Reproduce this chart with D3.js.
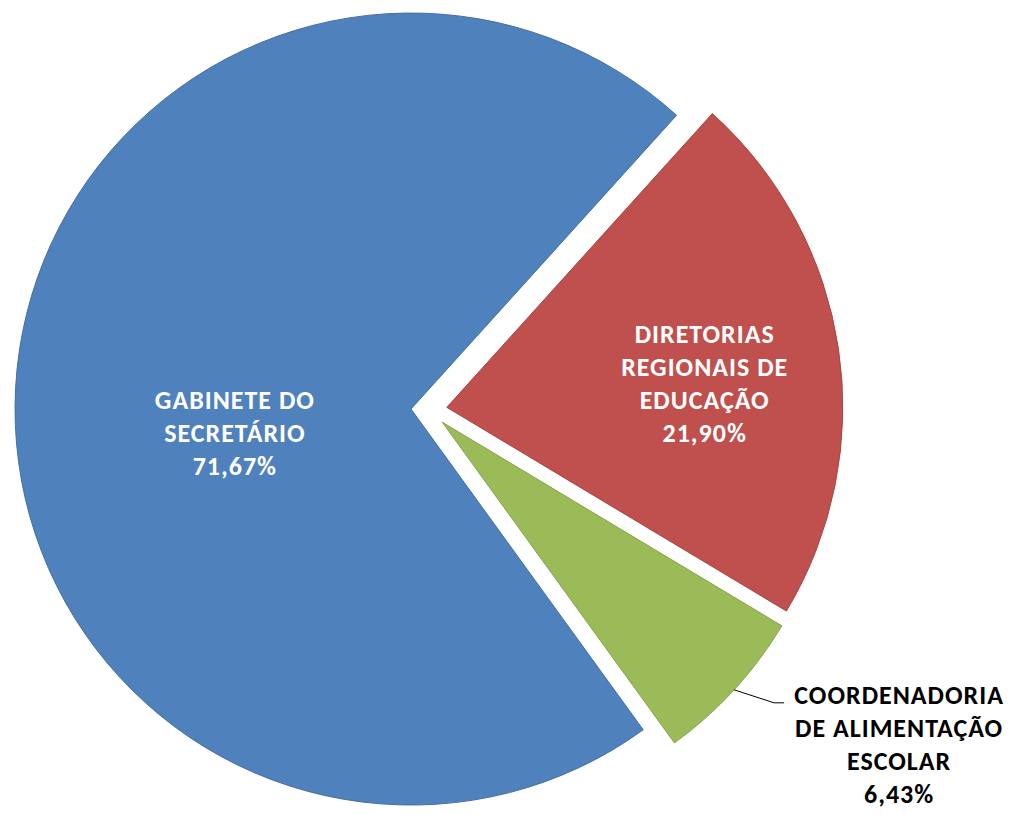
<!DOCTYPE html>
<html>
<head>
<meta charset="utf-8">
<script src="https://cdn.jsdelivr.net/npm/d3@7"></script>
<style>
  body { margin: 0; background: #fff; }
  svg { display: block; }
  text { font-family: Carlito, Calibri, Lato, "Open Sans", sans-serif; font-weight: bold; letter-spacing: 1px; }
</style>
</head>
<body>
<svg width="1015" height="815"></svg>
<script>
// chart data
const categories = ['GABINETE DO SECRETÁRIO', 'DIRETORIAS REGIONAIS DE EDUCAÇÃO', 'COORDENADORIA DE ALIMENTAÇÃO ESCOLAR'];
const labelLines = [
  ['GABINETE DO', 'SECRETÁRIO'],
  ['DIRETORIAS', 'REGIONAIS DE', 'EDUCAÇÃO'],
  ['COORDENADORIA', 'DE ALIMENTAÇÃO', 'ESCOLAR']
];
const values = [71.67, 21.90, 6.43];
const percentLabels = ['71,67%', '21,90%', '6,43%'];

const colors = ['#4F81BD', '#C0504D', '#9BBB59'];
const strokes = ['#44709f', '#a44542', '#86a34b'];

const svg = d3.select('svg');
const cx = 429;
const cy = 410;
const radius = 396;
const explode = 18;
const lineH = 33;
const fontSize = 26;

const toRad = (deg) => deg * Math.PI / 180;
const startDeg = 144.1;

const pie = d3.pie()
  .sort(null)
  .startAngle(toRad(startDeg))
  .endAngle(toRad(startDeg) + 2 * Math.PI);

const arc = d3.arc().innerRadius(0).outerRadius(radius);
const arcs = pie(values);

// point at distance r from slice center along angle a (clockwise from 12 o'clock)
const polar = (a, r) => [r * Math.sin(a), -r * Math.cos(a)];

const g = svg.append('g').attr('transform', `translate(${cx},${cy})`);

const slices = g.selectAll('.slice')
  .data(arcs)
  .join('g')
  .attr('class', 'slice')
  .attr('transform', (d) => {
    const mid = (d.startAngle + d.endAngle) / 2;
    const [dx, dy] = polar(mid, explode);
    return `translate(${dx},${dy})`;
  });

slices.append('path')
  .attr('d', arc)
  .attr('fill', (d, i) => colors[i])
  .attr('stroke', (d, i) => strokes[i])
  .attr('stroke-width', 1);

// inside labels: [fraction of radius, angle in degrees]
const insidePos = [[0.449, 262.2], [0.654, 84.7]];

arcs.forEach((d, i) => {
  if (i > 1) return;
  const mid = (d.startAngle + d.endAngle) / 2;
  const [ex, ey] = polar(mid, explode);
  const [lx, ly] = polar(toRad(insidePos[i][1]), insidePos[i][0] * radius);
  const lines = labelLines[i].concat([percentLabels[i]]);
  const top = ey + ly - (lines.length - 1) * lineH / 2;
  g.append('text')
    .attr('text-anchor', 'middle')
    .attr('fill', '#fff')
    .attr('font-size', fontSize)
    .selectAll('tspan')
    .data(lines)
    .join('tspan')
    .attr('x', ex + lx)
    .attr('y', (t, k) => top + k * lineH)
    .attr('dy', '0.35em')
    .text((t) => t);
});

// outside label with leader line for the small slice
{
  const d = arcs[2];
  const mid = (d.startAngle + d.endAngle) / 2;
  const [ex, ey] = polar(mid, explode);
  const [px, py] = polar(mid, radius);
  const x0 = ex + px;
  const y0 = ey + py;
  const elbow = [x0 + 40, y0 + 13];
  g.append('path')
    .attr('d', d3.line()([[x0, y0], elbow, [elbow[0] + 10, elbow[1]]]))
    .attr('fill', 'none')
    .attr('stroke', '#000')
    .attr('stroke-width', 1);

  const lines = labelLines[2].concat([percentLabels[2]]);
  g.append('text')
    .attr('text-anchor', 'middle')
    .attr('fill', '#000')
    .attr('font-size', fontSize)
    .selectAll('tspan')
    .data(lines)
    .join('tspan')
    .attr('x', elbow[0] + 125)
    .attr('y', (t, k) => elbow[1] + 1 + k * lineH)
    .text((t) => t);
}
</script>
</body>
</html>
